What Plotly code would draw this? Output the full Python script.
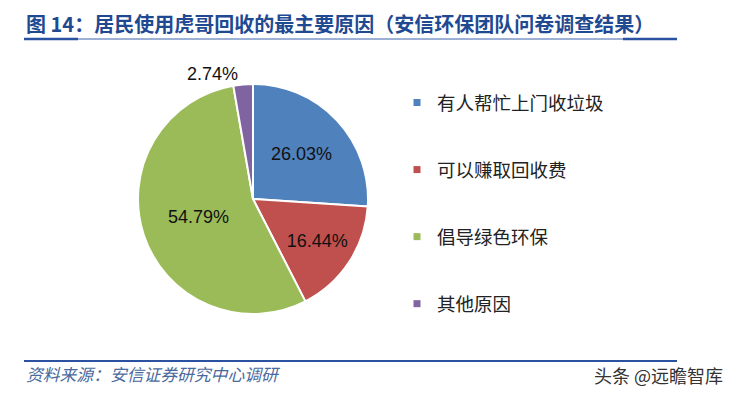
import plotly.graph_objects as go

labels = ["有人帮忙上门收垃圾", "可以赚取回收费", "倡导绿色环保", "其他原因"]
values = [26.03, 16.44, 54.79, 2.74]
colors = ["#4F81BD", "#C0504D", "#9BBB59", "#8064A2"]
text_pos = ["inside", "inside", "inside", "outside"]

title_text = "图 14：居民使用虎哥回收的最主要原因（安信环保团队问卷调查结果）"
source_text = "资料来源：安信证券研究中心调研"
watermark_text = "头条 @远瞻智库"

W, H = 740, 397
fig = go.Figure()

fig.add_trace(go.Pie(
    labels=labels, values=values, sort=False, direction="clockwise", rotation=0,
    marker=dict(colors=colors, line=dict(color="white", width=2)),
    texttemplate="%{value:.2f}%", textposition=text_pos,
    insidetextorientation="horizontal",
    textfont=dict(family="Arial, Liberation Sans", size=18, color="#111"),
    showlegend=False, hoverinfo="label+value",
    domain=dict(x=[138 / W, 368 / W], y=[83 / H, 313 / H]),
))

for lab, col in zip(labels, colors):
    fig.add_trace(go.Scatter(
        x=[None], y=[None], mode="markers", name=lab,
        marker=dict(symbol="square", size=7, color=col),
        legendgroup=lab, showlegend=True,
    ))

fig.update_layout(
    width=W, height=H, margin=dict(l=0, r=0, t=0, b=0),
    paper_bgcolor="white", plot_bgcolor="white",
    xaxis=dict(visible=False), yaxis=dict(visible=False),
    legend=dict(x=397 / W, y=1 - 84 / H, xanchor="left", yanchor="top",
                tracegroupgap=40, itemwidth=30,
                font=dict(family="Noto Sans CJK SC", size=18.5, color="#222"),
                bgcolor="rgba(0,0,0,0)"),
    annotations=[
        dict(text="<b>" + title_text + "</b>", x=24 / W, y=1 - 23 / H, xref="paper", yref="paper",
             xanchor="left", yanchor="middle", showarrow=False,
             font=dict(family="Noto Sans CJK SC", size=20, color="#1F4A92")),
        dict(text="<i>" + source_text + "</i>", x=24 / W, y=1 - 374 / H, xref="paper", yref="paper",
             xanchor="left", yanchor="middle", showarrow=False,
             font=dict(family="Noto Sans CJK SC", size=16.8, color="#4A6A9E")),
        dict(text=watermark_text, x=592 / W, y=1 - 375 / H, xref="paper", yref="paper",
             xanchor="left", yanchor="middle", showarrow=False,
             font=dict(family="Noto Sans CJK SC", size=18, color="#333")),
    ],
    shapes=[
        dict(type="line", xref="paper", yref="paper", x0=24 / W, x1=677 / W, y0=1 - 39 / H, y1=1 - 39 / H,
             line=dict(color="#3A62AE", width=1)),
        dict(type="line", xref="paper", yref="paper", x0=24 / W, x1=78 / W, y0=1 - 39 / H, y1=1 - 39 / H,
             line=dict(color="#2A52A0", width=2.5)),
        dict(type="line", xref="paper", yref="paper", x0=623 / W, x1=677 / W, y0=1 - 39 / H, y1=1 - 39 / H,
             line=dict(color="#2A52A0", width=2.5)),
        dict(type="line", xref="paper", yref="paper", x0=24 / W, x1=677 / W, y0=1 - 361 / H, y1=1 - 361 / H,
             line=dict(color="#2A52A0", width=2)),
    ],
)

fig.write_html("out.html", config={"displayModeBar": False},
               post_script="document.body.style.margin='0';")
